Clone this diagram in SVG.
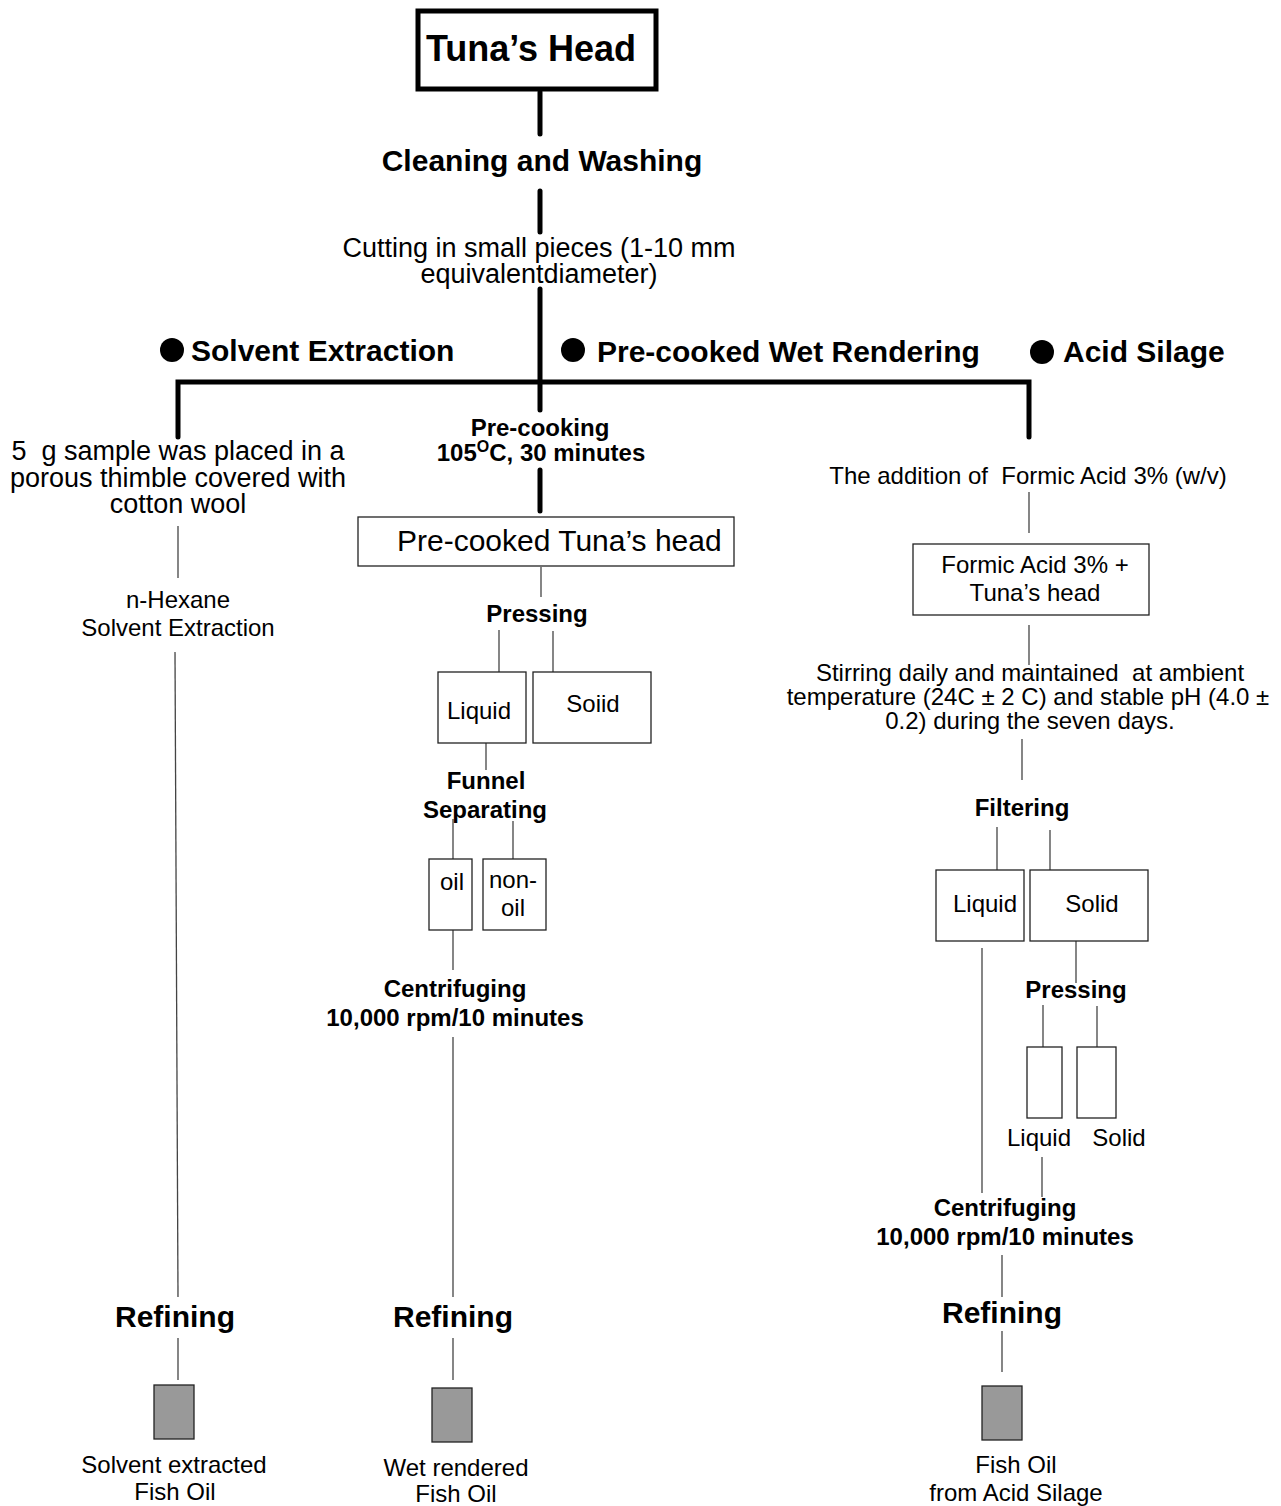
<svg xmlns="http://www.w3.org/2000/svg" width="1281" height="1506" viewBox="0 0 1281 1506">
<style>
text{font-family:"Liberation Sans",Arial,sans-serif;fill:#000;text-anchor:middle;white-space:pre}
.b{font-weight:bold}
.s{text-anchor:start}
.thick{stroke:#000;stroke-width:5;stroke-linecap:round;fill:none}
.thin{stroke:#444;stroke-width:1.3;fill:none}
.box{fill:#fff;stroke:#222;stroke-width:1.3}
.oil{fill:#999;stroke:#222;stroke-width:1.3}
</style>
<rect width="1281" height="1506" fill="#fff"/>
<g id="connectors">
<line class="thick" x1="540" y1="92" x2="540" y2="134"/>
<line class="thick" x1="540" y1="191" x2="540" y2="232"/>
<line class="thick" x1="540" y1="289" x2="540" y2="410"/>
<polyline class="thick" points="178,437 178,382 1029,382 1029,437"/>
<line class="thick" x1="540" y1="470" x2="540" y2="511"/>
<line class="thin" x1="541" y1="567" x2="541" y2="597"/>
<line class="thin" x1="499" y1="630" x2="499" y2="672"/>
<line class="thin" x1="553" y1="631" x2="553" y2="672"/>
<line class="thin" x1="486" y1="743" x2="486" y2="770"/>
<line class="thin" x1="453" y1="819" x2="453" y2="859"/>
<line class="thin" x1="513" y1="821" x2="513" y2="859"/>
<line class="thin" x1="453" y1="930" x2="453" y2="970"/>
<line class="thin" x1="453" y1="1037" x2="453" y2="1297"/>
<line class="thin" x1="453" y1="1338" x2="453" y2="1380"/>
<line class="thin" x1="178" y1="526" x2="178" y2="578"/>
<line class="thin" x1="175" y1="652" x2="178" y2="1297"/>
<line class="thin" x1="178" y1="1338" x2="178" y2="1380"/>
<line class="thin" x1="1029" y1="492" x2="1029" y2="533"/>
<line class="thin" x1="1029" y1="625" x2="1029" y2="665"/>
<line class="thin" x1="1022" y1="739" x2="1022" y2="780"/>
<line class="thin" x1="997" y1="827" x2="997" y2="870"/>
<line class="thin" x1="1050" y1="830" x2="1050" y2="870"/>
<line class="thin" x1="982" y1="948" x2="982" y2="1193"/>
<line class="thin" x1="1076" y1="941" x2="1076" y2="983"/>
<line class="thin" x1="1043" y1="1005" x2="1043" y2="1047"/>
<line class="thin" x1="1097" y1="1006" x2="1097" y2="1047"/>
<line class="thin" x1="1042" y1="1157" x2="1042" y2="1197"/>
<line class="thin" x1="1002" y1="1255" x2="1002" y2="1297"/>
<line class="thin" x1="1002" y1="1331" x2="1002" y2="1372"/>
</g>
<g id="tunas-head">
<rect x="418" y="11" width="238" height="78" fill="#fff" stroke="#000" stroke-width="5"/>
<text class="b" x="531" y="61" font-size="36">Tuna’s Head</text>
</g>
<g id="cleaning"><text class="b" x="542" y="171" font-size="30">Cleaning and Washing</text></g>
<g id="cutting">
<text x="539" y="257" font-size="27">Cutting in small pieces (1-10 mm</text>
<text x="539" y="283" font-size="27">equivalentdiameter)</text>
</g>
<g id="solvent-extraction-head">
<circle cx="172" cy="350" r="12"/>
<text class="b s" x="191" y="361" font-size="30">Solvent Extraction</text>
</g>
<g id="wet-rendering-head">
<circle cx="573" cy="350" r="12"/>
<text class="b s" x="597" y="362" font-size="30">Pre-cooked Wet Rendering</text>
</g>
<g id="acid-silage-head">
<circle cx="1042" cy="352" r="12"/>
<text class="b s" x="1063" y="362" font-size="30">Acid Silage</text>
</g>
<g id="sample">
<text x="178" y="460" font-size="27">5  g sample was placed in a</text>
<text x="178" y="487" font-size="27">porous thimble covered with</text>
<text x="178" y="513" font-size="27">cotton wool</text>
</g>
<g id="hexane">
<text x="178" y="608" font-size="24">n-Hexane</text>
<text x="178" y="636" font-size="24">Solvent Extraction</text>
</g>
<g id="refining-1"><text class="b" x="175" y="1327" font-size="30">Refining</text></g>
<g id="oil-1">
<rect class="oil" x="154" y="1385" width="40" height="54"/>
<text x="174" y="1473" font-size="24">Solvent extracted</text>
<text x="175" y="1500" font-size="24">Fish Oil</text>
</g>
<g id="precooking">
<text class="b" x="540" y="436" font-size="24">Pre-cooking</text>
<text class="b" x="541" y="461" font-size="24">105<tspan font-size="16" dy="-9">O</tspan><tspan dy="9">C, 30 minutes</tspan></text>
</g>
<g id="precooked-head">
<rect class="box" x="358" y="517" width="376" height="49"/>
<text class="s" x="397" y="551" font-size="30">Pre-cooked Tuna’s head</text>
</g>
<g id="pressing-1"><text class="b" x="537" y="622" font-size="24">Pressing</text></g>
<g id="liquid-1">
<rect class="box" x="438" y="672" width="88" height="71"/>
<text x="479" y="719" font-size="24">Liquid</text>
</g>
<g id="solid-1">
<rect class="box" x="533" y="672" width="118" height="71"/>
<text x="593" y="712" font-size="24">Soiid</text>
</g>
<g id="funnel">
<text class="b" x="486" y="789" font-size="24">Funnel</text>
<text class="b" x="485" y="818" font-size="24">Separating</text>
</g>
<g id="oil-box">
<rect class="box" x="429" y="859" width="43" height="71"/>
<text x="452" y="890" font-size="24">oil</text>
</g>
<g id="non-oil-box">
<rect class="box" x="483" y="859" width="63" height="71"/>
<text x="513" y="888" font-size="24">non-</text>
<text x="513" y="916" font-size="24">oil</text>
</g>
<g id="centrifuging-1">
<text class="b" x="455" y="997" font-size="24">Centrifuging</text>
<text class="b" x="455" y="1026" font-size="24">10,000 rpm/10 minutes</text>
</g>
<g id="refining-2"><text class="b" x="453" y="1327" font-size="30">Refining</text></g>
<g id="oil-2">
<rect class="oil" x="432" y="1388" width="40" height="54"/>
<text x="456" y="1476" font-size="24">Wet rendered</text>
<text x="456" y="1502" font-size="24">Fish Oil</text>
</g>
<g id="formic-addition"><text x="1028" y="484" font-size="24">The addition of  Formic Acid 3% (w/v)</text></g>
<g id="formic-box">
<rect class="box" x="913" y="544" width="236" height="71"/>
<text x="1035" y="573" font-size="24">Formic Acid 3% +</text>
<text x="1035" y="601" font-size="24">Tuna’s head</text>
</g>
<g id="stirring">
<text x="1030" y="681" font-size="24">Stirring daily and maintained  at ambient</text>
<text x="1028" y="705" font-size="24">temperature (24C ± 2 C) and stable pH (4.0 ±</text>
<text x="1030" y="729" font-size="24">0.2) during the seven days.</text>
</g>
<g id="filtering"><text class="b" x="1022" y="816" font-size="24">Filtering</text></g>
<g id="liquid-2">
<rect class="box" x="936" y="870" width="88" height="71"/>
<text x="985" y="912" font-size="24">Liquid</text>
</g>
<g id="solid-2">
<rect class="box" x="1030" y="870" width="118" height="71"/>
<text x="1092" y="912" font-size="24">Solid</text>
</g>
<g id="pressing-2"><text class="b" x="1076" y="998" font-size="24">Pressing</text></g>
<g id="liquid-3">
<rect class="box" x="1027" y="1047" width="35" height="71"/>
<text x="1039" y="1146" font-size="24">Liquid</text>
</g>
<g id="solid-3">
<rect class="box" x="1077" y="1047" width="39" height="71"/>
<text x="1119" y="1146" font-size="24">Solid</text>
</g>
<g id="centrifuging-2">
<text class="b" x="1005" y="1216" font-size="24">Centrifuging</text>
<text class="b" x="1005" y="1245" font-size="24">10,000 rpm/10 minutes</text>
</g>
<g id="refining-3"><text class="b" x="1002" y="1323" font-size="30">Refining</text></g>
<g id="oil-3">
<rect class="oil" x="982" y="1386" width="40" height="54"/>
<text x="1016" y="1473" font-size="24">Fish Oil</text>
<text x="1016" y="1501" font-size="24">from Acid Silage</text>
</g>
</svg>
